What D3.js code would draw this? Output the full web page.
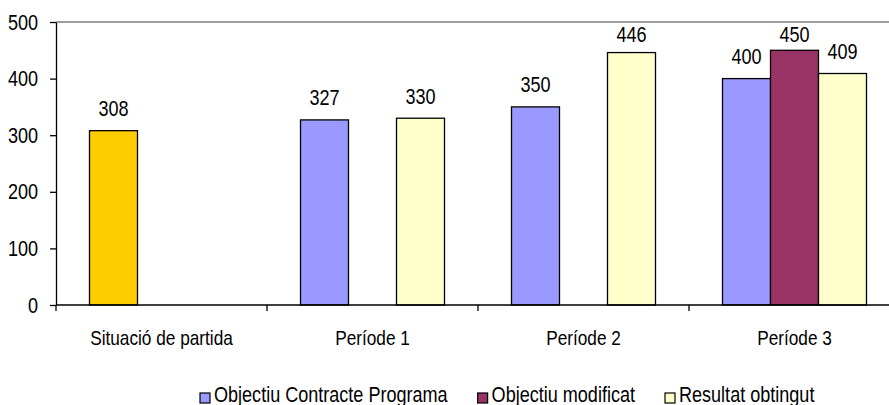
<!DOCTYPE html>
<html>
<head>
<meta charset="utf-8">
<script src="https://cdn.jsdelivr.net/npm/d3@7"></script>
<style>
  body { margin: 0; background: #fff; }
  text { font-family: "Liberation Sans", Arial, sans-serif; fill: #000; }
</style>
</head>
<body>
<div id="chart"></div>
<script>
// Data
const categories = ["Situació de partida", "Període 1", "Període 2", "Període 3"];
const seriesNames = ["Objectiu Contracte Programa", "Objectiu modificat", "Resultat obtingut"];
const objectiuCP = [308, 327, 350, 400];
const objectiuMod = [null, null, null, 450];
const resultat = [null, 330, 446, 409];
const yTicks = [0, 100, 200, 300, 400, 500];

const seriesColors = ["#9999FF", "#993366", "#FFFFCC"];
// the starting point is drawn in its own colour
const startColor = "#FFCC00";

const W = 889, H = 405;
const margin = {top: 22, left: 56, bottom: 100};
const plotRight = 900; // plot runs past the right edge of the picture
const squeeze = 0.82; // the picture uses a condensed face

/**
 * Condense text horizontally, the way a narrow font would look.
 * @param {*} sel
 */
function narrow(sel) {
  sel.each(function() {
    // eslint-disable-next-line no-invalid-this
    const len = this.getComputedTextLength();
    d3.select(this)
      .attr("textLength", len * squeeze)
      .attr("lengthAdjust", "spacingAndGlyphs");
  });
}

const svg = d3.select("#chart")
  .append("svg")
  .attr("width", W)
  .attr("height", H);

const seriesValues = [objectiuCP, objectiuMod, resultat];

// Build flat data list
const data = [];
seriesValues.forEach(function(vals, s) {
  vals.forEach(function(v, i) {
    if (v === null) return;
    data.push({cat: categories[i], series: seriesNames[s], s: s, value: v});
  });
});

const x0 = d3.scaleBand()
  .domain(categories)
  .range([margin.left, plotRight])
  .paddingInner(0.3175)
  .paddingOuter(0.15875);

const x1 = d3.scaleBand()
  .domain(seriesNames)
  .range([0, x0.bandwidth()]);

const y = d3.scaleLinear()
  .domain([0, 500])
  .range([H - margin.bottom, margin.top]);

// Top border of plot area
svg.append("line")
  .attr("x1", margin.left).attr("x2", plotRight)
  .attr("y1", y(500)).attr("y2", y(500))
  .attr("stroke", "#808080")
  .attr("stroke-width", 1.5);

// Bars
svg.selectAll("rect.bar")
  .data(data)
  .enter()
  .append("rect")
  .attr("class", "bar")
  .attr("x", function(d) { return x0(d.cat) + x1(d.series); })
  .attr("y", function(d) { return y(d.value); })
  .attr("width", x1.bandwidth())
  .attr("height", function(d) { return y(0) - y(d.value); })
  .attr("fill", function(d) {
    return d.cat === categories[0] ? startColor : seriesColors[d.s];
  })
  .attr("stroke", "#000")
  .attr("stroke-width", 1.3);

// Value labels (kept inside the plot area)
svg.selectAll("text.val")
  .data(data)
  .enter()
  .append("text")
  .attr("class", "val")
  .attr("x", function(d) { return x0(d.cat) + x1(d.series) + x1.bandwidth() / 2; })
  .attr("y", function(d) { return Math.max(y(d.value) - 14.5, y(500) + 20); })
  .attr("text-anchor", "middle")
  .style("font-size", "22px")
  .text(function(d) { return d.value; })
  .call(narrow);

// Y axis
const yAxis = d3.axisLeft(y)
  .tickValues(yTicks)
  .tickSize(6)
  .tickSizeOuter(0)
  .tickPadding(12);

const gy = svg.append("g")
  .attr("transform", "translate(" + margin.left + ",0)")
  .call(yAxis);
gy.attr("font-family", null).attr("font-size", null);
gy.select(".domain").attr("stroke", "#000").attr("stroke-width", 1.3);
gy.selectAll(".tick line").attr("stroke", "#000").attr("stroke-width", 1.3);
gy.selectAll(".tick text")
  .style("font-size", "22px")
  .call(narrow);

// X axis line
svg.append("line")
  .attr("x1", margin.left).attr("x2", plotRight)
  .attr("y1", y(0)).attr("y2", y(0))
  .attr("stroke", "#000")
  .attr("stroke-width", 1.3);

// Category boundary ticks
const bounds = d3.range(categories.length + 1).map(function(i) {
  return x0.range()[0] + i * x0.step();
});
svg.selectAll("line.ctick")
  .data(bounds)
  .enter()
  .append("line")
  .attr("class", "ctick")
  .attr("x1", function(d) { return d; })
  .attr("x2", function(d) { return d; })
  .attr("y1", y(0))
  .attr("y2", y(0) + 6)
  .attr("stroke", "#000")
  .attr("stroke-width", 1.3);

// Category labels
svg.selectAll("text.cat")
  .data(categories)
  .enter()
  .append("text")
  .attr("class", "cat")
  .attr("x", function(d) { return x0(d) + x0.bandwidth() / 2; })
  .attr("y", 345)
  .attr("text-anchor", "middle")
  .style("font-size", "21px")
  .text(function(d) { return d; })
  .call(narrow);

// Legend
const legend = svg.append("g").attr("transform", "translate(0,402)");
let lx = 200;
seriesNames.forEach(function(name, i) {
  legend.append("rect")
    .attr("x", lx)
    .attr("y", -9)
    .attr("width", 10)
    .attr("height", 10)
    .attr("fill", seriesColors[i])
    .attr("stroke", "#000")
    .attr("stroke-width", 1.2);
  const t = legend.append("text")
    .attr("x", lx + 14)
    .attr("y", 0)
    .style("font-size", "22px")
    .text(name)
    .call(narrow);
  lx += 14 + (+t.attr("textLength")) + 30;
});
</script>
</body>
</html>
